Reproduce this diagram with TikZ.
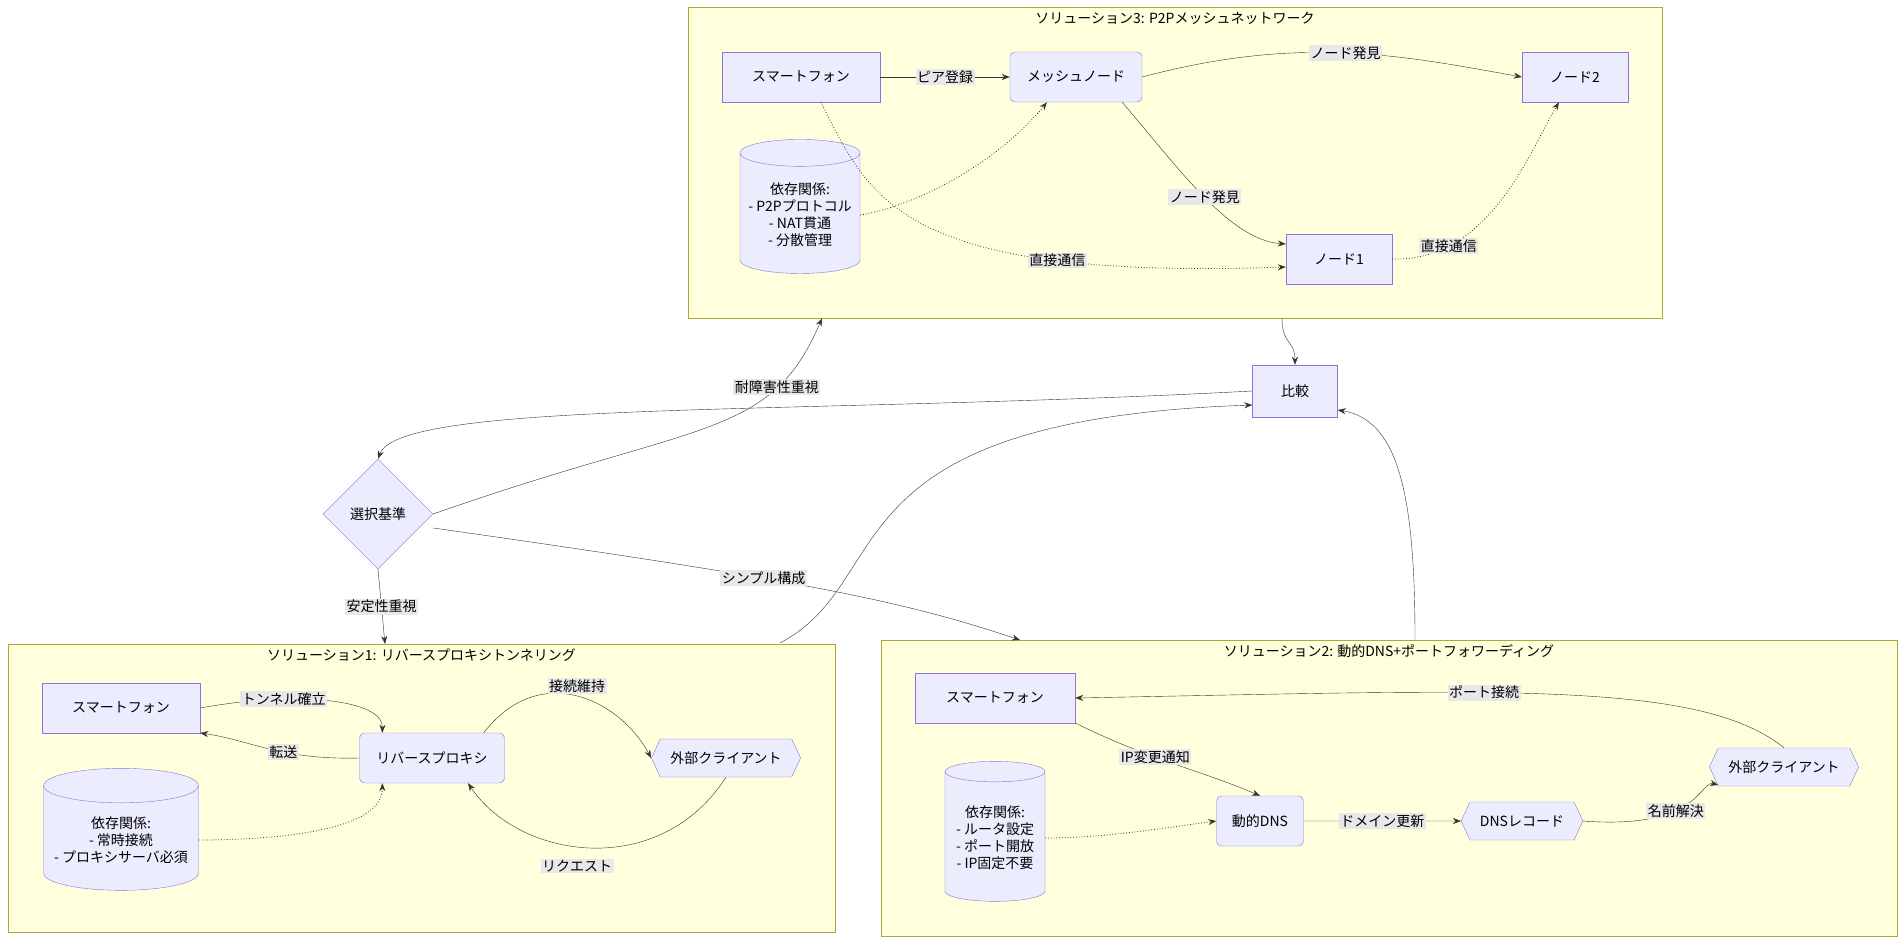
\documentclass[tikz,border=0pt]{standalone}
\usepackage{fontspec}
\setmainfont{Noto Sans CJK JP}
\usetikzlibrary{shapes.geometric,shapes.symbols,arrows.meta,calc}
\definecolor{boxfill}{HTML}{ECECFF}
\definecolor{boxline}{HTML}{9370DB}
\definecolor{grpfill}{HTML}{FFFFDE}
\definecolor{grpline}{HTML}{AAAA33}
\definecolor{lblfill}{HTML}{E8E8E8}
\definecolor{edge}{HTML}{333333}
\tikzset{
  box/.style={draw=boxline,fill=boxfill,minimum height=50pt,inner sep=0pt},
  rbox/.style={box,rounded corners=5pt},
  hexa/.style={draw=boxline,fill=boxfill,signal,signal to=east and west,signal pointer angle=130,minimum height=38pt,inner xsep=10pt},
  cyl/.style={draw=boxline,fill=boxfill,cylinder,shape border rotate=90,aspect=0.25,align=center,inner sep=2pt},
  grp/.style={draw=grpline,fill=grpfill,inner sep=0pt},
  gtitle/.style={anchor=north},
  lbl/.style={fill=lblfill,inner sep=1.5pt},
  arr/.style={draw=edge,-{Stealth[length=8pt,width=6pt]}},
  dotarr/.style={arr,dotted,thick},
}
\begin{document}
\begin{tikzpicture}[x=1pt,y=-1pt,font=\fontsize{14}{17}\selectfont]
\path[use as bounding box,fill=white] (0,0) rectangle (1904,943);
% groups
\node[grp,minimum width=974pt,minimum height=311pt] (g3) at (1175,162.5) {};
\node[gtitle] at (1175,9) {ソリューション3: P2Pメッシュネットワーク};
\node[grp,minimum width=827pt,minimum height=288pt] (g1) at (421.5,788) {};
\node[gtitle] at (421.5,645) {ソリューション1: リバースプロキシトンネリング};
\node[grp,minimum width=1016pt,minimum height=296pt] (g2) at (1389,788) {};
\node[gtitle] at (1389,641) {ソリューション2: 動的DNS+ポートフォワーディング};
% solution 3
\node[box,minimum width=158pt] (phone3) at (801,77) {スマートフォン};
\node[rbox,minimum width=132pt] (mesh) at (1076,77) {メッシュノード};
\node[box,minimum width=106pt] (node2) at (1575,77) {ノード2};
\node[box,minimum width=106pt] (node1) at (1339,259) {ノード1};
\node[cyl,minimum width=120pt,minimum height=134pt] (dep3) at (800,215)
  {依存関係:\\- P2Pプロトコル\\- NAT貫通\\- 分散管理};
\draw[arr] (phone3) -- node[lbl] {ピア登録} (mesh);
\draw[arr] (mesh.east) .. controls (1300,35) and (1400,55) .. node[lbl,pos=0.5] {ノード発見} (node2.west);
\draw[arr] ($(mesh.south east)+(-20,0)$) .. controls (1180,170) and (1230,240) .. node[lbl,pos=0.5] {ノード発見} (node1.west|-1286,244);
\draw[dotarr] ($(phone3.south)+(20,0)$) .. controls (870,200) and (900,280) .. node[lbl,pos=0.75] {直接通信} (node1.west|-1286,267);
\draw[dotarr] (dep3.east) .. controls (920,205) and (1000,160) .. ($(mesh.south)+(-29,0)$);
\draw[dotarr] (node1.east) .. controls (1490,262) and (1530,150) .. node[lbl,pos=0.22] {直接通信} ($(node2.south)+(-16,0)$);
% middle
\node[box,minimum width=85pt,minimum height=52pt] (cmp) at (1295,391) {比較};
\node[diamond,draw=boxline,fill=boxfill,minimum width=110pt,minimum height=110pt,inner sep=0pt] (sel) at (378,514) {選択基準};
\draw[arr] (1282,318) .. controls (1282,345) and (1295,340) .. (cmp.north);
\draw[arr] (cmp.west) .. controls (800,415) and (400,400) .. (sel.north);
\draw[arr] (sel.east) .. controls (700,420) and (770,440) .. node[lbl,pos=0.75] {耐障害性重視} (g3.south west-|822,318);
\draw[arr] (sel.south) -- node[lbl] {安定性重視} (385,644);
\draw[arr] (sel.east|-360,528) .. controls (800,580) and (900,600) .. node[lbl,pos=0.4] {シンプル構成} (1020,640);
\draw[arr] (780,643) .. controls (900,580) and (820,420) .. (cmp.west|-1253,405);
\draw[arr] (1415,640) .. controls (1415,500) and (1400,420) .. (cmp.south east|-1340,410);
% solution 1
\node[box,minimum width=158pt] (phone1) at (121,708) {スマートフォン};
\node[rbox,minimum width=145pt] (proxy) at (432,758) {リバースプロキシ};
\node[hexa] (ext1) at (726,758) {外部クライアント};
\node[cyl,minimum width=155pt,minimum height=122pt] (dep1) at (121,840)
  {依存関係:\\- 常時接続\\- プロキシサーバ必須};
\draw[arr] (phone1.east) .. controls (300,690) and (383,700) .. node[lbl,pos=0.3] {トンネル確立} ($(proxy.north west)+(23,0)$);
\draw[arr] (proxy.west) .. controls (280,760) and (250,740) .. node[lbl,pos=0.4] {転送} (phone1.south east|-200,733);
\draw[arr] ($(proxy.north east)+(-21,0)$) .. controls (540,660) and (620,700) .. (ext1.west);
\node[lbl] at (577,686) {接続維持};
\draw[arr] (ext1.south) .. controls (660,880) and (520,860) .. ($(proxy.south)+(36,0)$);
\node[lbl] at (577,866) {リクエスト};
\draw[dotarr] (dep1.east) .. controls (280,840) and (383,830) .. ($(proxy.south west)+(23,0)$);
% solution 2
\node[box,minimum width=160pt] (phone2) at (995,698) {スマートフォン};
\node[cyl,minimum width=100pt,minimum height=140pt] (dep2) at (995,838)
  {依存関係:\\- ルータ設定\\- ポート開放\\- IP固定不要};
\node[rbox,minimum width=87pt] (ddns) at (1260,821) {動的DNS};
\node[hexa] (rec) at (1522,821) {DNSレコード};
\node[hexa] (ext2) at (1784,767) {外部クライアント};
\draw[arr] (phone2.south east|-1065,723) .. controls (1150,760) and (1200,770) .. node[lbl,pos=0.4] {IP変更通知} (ddns.north);
\draw[arr] (ddns) -- node[lbl] {ドメイン更新} (rec);
\draw[arr] (rec.east) .. controls (1700,830) and (1700,780) .. node[lbl,pos=0.4] {名前解決} (ext2.south west|-1738,785);
\draw[arr] (ext2.north) .. controls (1700,680) and (1500,690) .. node[lbl,pos=0.6] {ポート接続} (phone2.east);
\draw[dotarr] (dep2.east) .. controls (1100,838) and (1150,830) .. (ddns.west);
\end{tikzpicture}
\end{document}
